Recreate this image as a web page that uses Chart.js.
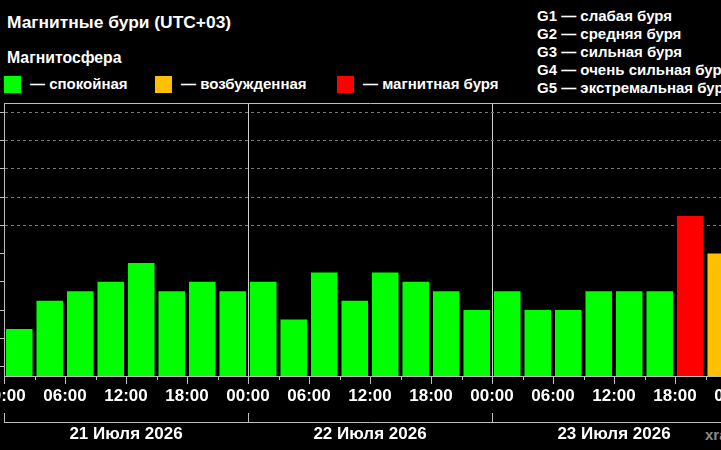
<!DOCTYPE html>
<html lang="ru">
<head>
<meta charset="utf-8">
<title>Магнитные бури</title>
<script src="https://cdn.jsdelivr.net/npm/chart.js@4.4.1/dist/chart.umd.min.js"></script>
<style>
  html, body { margin: 0; padding: 0; background: #000; }
  #wrap {
    position: relative; width: 721px; height: 450px; overflow: hidden; background: #000;
    font-family: "Liberation Sans", Arial, sans-serif; font-weight: bold; color: #fff;
  }
  #chart { position: absolute; left: -40px; top: 0; }
  .title { position: absolute; left: 7px; top: 14px; font-size: 17.4px; line-height: 17px; white-space: nowrap; }
  .sub { position: absolute; left: 7px; top: 50px; font-size: 15.8px; line-height: 16px; white-space: nowrap; }
  .lg-box { position: absolute; top: 76px; width: 17px; height: 17px; }
  .lg-text { position: absolute; top: 76px; font-size: 15px; line-height: 15px; white-space: nowrap; }
  .glist { position: absolute; left: 537px; top: 7px; font-size: 15px; line-height: 18px; white-space: nowrap; }
  .mark { position: absolute; left: 705px; top: 427px; font-size: 15px; line-height: 15px; color: #8a8a8a; white-space: nowrap; }
</style>
</head>
<body>
<div id="wrap">
  <div class="title">Магнитные бури (UTC+03)</div>
  <div class="sub">Магнитосфера</div>
  <div class="lg-box" style="left:4px; background:#00ff00"></div>
  <div class="lg-text" style="left:30px">— спокойная</div>
  <div class="lg-box" style="left:155px; background:#ffc000"></div>
  <div class="lg-text" style="left:181px">— возбужденная</div>
  <div class="lg-box" style="left:337px; background:#ff0000"></div>
  <div class="lg-text" style="left:363px">— магнитная буря</div>
  <div class="glist">
    G1 — слабая буря<br>
    G2 — средняя буря<br>
    G3 — сильная буря<br>
    G4 — очень сильная буря<br>
    G5 — экстремальная буря
  </div>
  <div class="mark">xras.ru</div>
  <canvas id="chart" width="820" height="450"></canvas>
</div>
<script>
// Kp index, one value per 3-hour slot (UTC+03)
const days = ['21 Июля 2026', '22 Июля 2026', '23 Июля 2026'];
const kpValues = [
  1.33, 2.33, 2.67, 3, 3.67, 2.67, 3, 2.67,
  3, 1.67, 3.33, 2.33, 3.33, 3, 2.67, 2,
  2.67, 2, 2, 2.67, 2.67, 2.67, 5.33, 4
];
const kpTicks = [0, 1, 2, 3, 4, 5, 6, 7, 8, 9];
const slotHours = 3;
const labelEvery = 6;

const Y_MIN = -1 / 3;
const Y_MAX = 9 + 1 / 3;
const FONT = '"Liberation Sans", Arial, sans-serif';
const AXIS_COLOR = '#bdbdbd';
const NONE = 'rgba(0,0,0,0)';

function kpColor(v) {
  if (v >= 5) return '#ff0000';
  if (v >= 4) return '#ffc000';
  return '#00ff00';
}

function hourLabel(h) {
  return String(h % 24).padStart(2, '0') + ':00';
}

const totalHours = kpValues.length * slotHours;
const hourTicks = [];
for (let h = 0; h <= totalHours; h += slotHours) hourTicks.push(h);
const dayBounds = days.map((d, i) => i * 24).concat([days.length * 24]);
const dayCenters = days.map((d, i) => i * 24 + 12);

// short ticks between labels + the brackets under the dates
const axisMarks = {
  id: 'axisMarks',
  afterDraw(chart) {
    const { ctx, scales: { x, xDay } } = chart;
    ctx.save();
    ctx.strokeStyle = AXIS_COLOR;
    ctx.lineWidth = 1;
    ctx.beginPath();
    hourTicks.forEach(h => {
      if (h % labelEvery === 0) return;
      const px = Math.round(x.getPixelForValue(h)) + 0.5;
      ctx.moveTo(px, x.top);
      ctx.lineTo(px, x.top + 4);
    });
    dayBounds.forEach(h => {
      const px = Math.round(xDay.getPixelForValue(h)) + 0.5;
      ctx.moveTo(px, xDay.top - 9);
      ctx.lineTo(px, xDay.top);
    });
    ctx.stroke();
    ctx.restore();
  }
};

new Chart(document.getElementById('chart'), {
  type: 'bar',
  data: {
    datasets: [{
      data: kpValues.map((v, i) => ({ x: i * slotHours + slotHours / 2, y: v })),
      backgroundColor: kpValues.map(kpColor),
      base: Y_MIN,
      barPercentage: 0.87,
      categoryPercentage: 1,
      borderWidth: 0
    }]
  },
  options: {
    responsive: false,
    animation: false,
    layout: { padding: { top: 103, left: 40, right: 44, bottom: 0 } },
    plugins: {
      legend: { display: false },
      tooltip: { enabled: false }
    },
    scales: {
      x: {
        type: 'linear',
        position: 'bottom',
        offset: false,
        min: 0,
        max: totalHours,
        afterBuildTicks: s => { s.ticks = hourTicks.map(v => ({ value: v })); },
        afterFit: s => { s.height = 46; },
        ticks: {
          autoSkip: false,
          maxRotation: 0,
          padding: 2,
          color: '#ffffff',
          font: { family: FONT, size: 17, weight: 'bold' },
          callback: v => (v % labelEvery === 0 ? hourLabel(v) : '')
        },
        grid: {
          offset: false,
          color: c => (c.tick && c.tick.value % 24 === 0 && c.tick.value > 0 && c.tick.value < totalHours) ? '#d0d0d0' : NONE,
          tickLength: 8,
          tickColor: c => (c.tick && c.tick.value % labelEvery === 0) ? AXIS_COLOR : NONE
        },
        border: { color: AXIS_COLOR, width: 1 }
      },
      xDay: {
        type: 'linear',
        position: 'bottom',
        weight: 1,
        offset: false,
        min: 0,
        max: totalHours,
        afterBuildTicks: s => { s.ticks = dayCenters.map(v => ({ value: v })); },
        afterFit: s => { s.height = 28; },
        ticks: {
          autoSkip: false,
          maxRotation: 0,
          padding: 2,
          color: '#ffffff',
          font: { family: FONT, size: 17, weight: 'bold' },
          callback: (v, i) => days[i]
        },
        grid: { display: false, drawTicks: false, offset: false },
        border: { color: AXIS_COLOR, width: 1 }
      },
      xTop: {
        type: 'linear',
        position: 'top',
        offset: false,
        min: 0,
        max: totalHours,
        afterBuildTicks: s => { s.ticks = []; },
        afterFit: s => { s.height = 0; },
        ticks: { display: false },
        grid: { display: false, drawTicks: false, offset: false },
        border: { color: AXIS_COLOR, width: 1 }
      },
      y: {
        min: Y_MIN,
        max: Y_MAX,
        afterBuildTicks: s => { s.ticks = kpTicks.map(v => ({ value: v })); },
        afterFit: s => { s.width = 4; },
        ticks: { display: false },
        grid: {
          color: c => (c.tick && c.tick.value >= 5) ? '#777777' : NONE,
          tickLength: 4,
          tickColor: AXIS_COLOR
        },
        border: { color: AXIS_COLOR, width: 1, dash: [3, 3] }
      }
    }
  },
  plugins: [axisMarks]
});
</script>
</body>
</html>
